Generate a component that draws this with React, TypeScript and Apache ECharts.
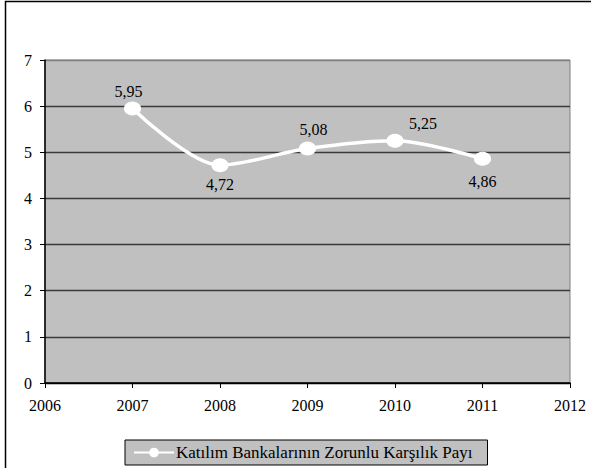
import React, { useEffect, useRef } from "react";
import * as echarts from "echarts";

const years = [2007, 2008, 2009, 2010, 2011];
const values = [5.95, 4.72, 5.08, 5.25, 4.86];
const labelTexts = ["5,95", "4,72", "5,08", "5,25", "4,86"];
const labelPositions = ["top", "bottom", "top", "top", "bottom"];
const seriesName = "Katılım Bankalarının Zorunlu Karşılık Payı";

const FONT = "Times New Roman, Liberation Serif, Tinos, DejaVu Serif, serif";

const labelOffsets = [
  [-4, 4],
  [0, -2],
  [6, 2],
  [28, 4],
  [0, 2],
];

export default function App() {
  const ref = useRef<HTMLDivElement>(null);
  useEffect(() => {
    const chart = echarts.init(ref.current!, null, { renderer: "svg" });
    const data = years.map((y, i) => ({
      value: [y, values[i]],
      label: {
        position: labelPositions[i],
        offset: labelOffsets[i],
        formatter: labelTexts[i],
      },
    }));
    chart.setOption({
      animation: false,
      backgroundColor: "#ffffff",
      textStyle: { fontFamily: FONT },
      graphic: [
        {
          type: "rect",
          shape: { x: 5.5, y: 1.5, width: 620, height: 500 },
          style: { fill: "none", stroke: "#000", lineWidth: 1.5 },
          silent: true,
        },
      ],
      grid: {
        left: 45,
        right: 21,
        top: 60,
        bottom: 85,
        show: true,
        backgroundColor: "#C0C0C0",
        borderColor: "#808080",
        borderWidth: 1,
      },
      legend: {
        bottom: 3,
        left: 125,
        backgroundColor: "#C0C0C0",
        borderColor: "#000",
        borderWidth: 1,
        borderRadius: 0,
        padding: [4, 15, 4, 8],
        itemWidth: 40,
        itemHeight: 12,
        itemGap: 4,
        textStyle: { fontFamily: FONT, fontSize: 17, color: "#000", padding: [0, 0, 0, -3] },
        data: [seriesName],
      },
      xAxis: {
        type: "value",
        min: 2006,
        max: 2012,
        interval: 1,
        axisLine: { show: true, lineStyle: { color: "#000", width: 1.5 } },
        axisTick: { show: true, length: 5, lineStyle: { color: "#000" } },
        axisLabel: { color: "#000", fontSize: 16, fontFamily: FONT, margin: 14, formatter: (v: number) => String(v) },
        splitLine: { show: false },
      },
      yAxis: {
        type: "value",
        min: 0,
        max: 7,
        interval: 1,
        axisLine: { show: true, lineStyle: { color: "#000", width: 1.5 } },
        axisTick: { show: true, length: 5, lineStyle: { color: "#000" } },
        axisLabel: { color: "#000", fontSize: 16, fontFamily: FONT, margin: 13 },
        splitLine: {
          show: true,
          lineStyle: { color: ["#000", "#3a3a3a", "#3a3a3a", "#3a3a3a", "#3a3a3a", "#3a3a3a", "#3a3a3a", "#808080"], width: 1.3 },
        },
      },
      series: [
        {
          name: seriesName,
          type: "line",
          smooth: 0.3,
          data,
          symbol: "circle",
          symbolSize: [16, 13],
          itemStyle: { color: "#ffffff", borderColor: "#ffffff" },
          lineStyle: { color: "#ffffff", width: 3.5 },
          label: {
            show: true,
            fontFamily: FONT,
            fontSize: 16,
            color: "#000",
            distance: 6,
          },
        },
      ],
    });
    return () => chart.dispose();
  }, []);
  return (
    <div
      ref={ref}
      style={{ position: "fixed", left: 0, top: 0, width: 591, height: 468 }}
    />
  );
}
